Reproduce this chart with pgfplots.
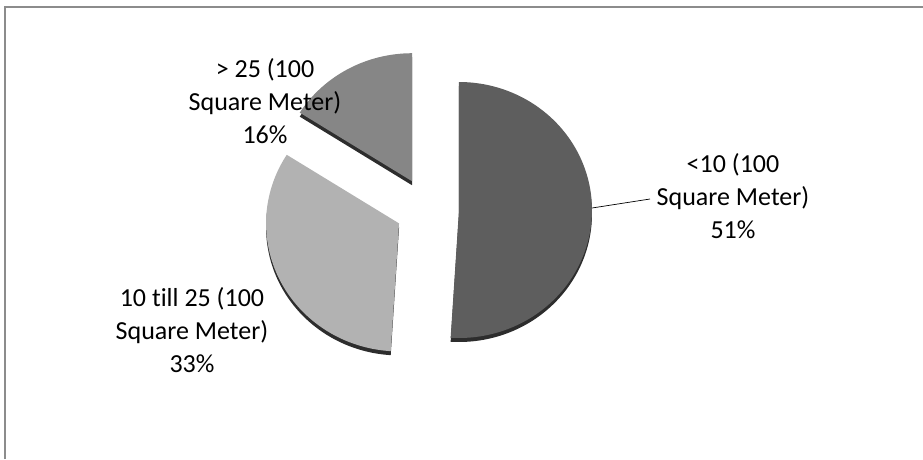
\documentclass[border=0pt]{standalone}
\usepackage{fontspec}
\setmainfont{Carlito}[Ligatures=NoCommon]
\usepackage{pgfplots}
\pgfplotsset{compat=1.18}

\definecolor{sliceA}{RGB}{94,94,94}
\definecolor{sliceB}{RGB}{178,178,178}
\definecolor{sliceC}{RGB}{134,134,134}
\definecolor{rimcol}{RGB}{45,45,45}
\definecolor{framecol}{RGB}{140,140,140}

% pie geometry in pixel units of the reference
\def\cx{427.3}
\def\cy{209}
\def\rx{133}
\def\ry{128}
\def\dd{31.7}
\def\depth{4}

% #1 start percent, #2 end percent, #3 colour (clockwise from 12 o'clock)
\newcommand{\pieslice}[3]{%
  \pgfmathsetmacro{\sa}{#1*3.6}%
  \pgfmathsetmacro{\sb}{#2*3.6}%
  \pgfmathsetmacro{\sm}{(\sa+\sb)/2}%
  \pgfmathsetmacro{\spx}{\cx+\dd*sin(\sm)}%
  \pgfmathsetmacro{\spy}{\cy-\dd*cos(\sm)}%
  \pgfmathsetmacro{\spyd}{\spy+\depth}%
  \edef\doslice{%
    \noexpand\addplot[fill=rimcol, draw=none, domain=\sa:\sb, samples=120, variable=\noexpand\t]
      ({\spx+\rx*sin(\noexpand\t)}, {\spyd-\ry*cos(\noexpand\t)}) -- (axis cs:\spx,\spyd) -- cycle;
    \noexpand\addplot[fill=#3, draw=none, domain=\sa:\sb, samples=120, variable=\noexpand\t]
      ({\spx+\rx*sin(\noexpand\t)}, {\spy-\ry*cos(\noexpand\t)}) -- (axis cs:\spx,\spy) -- cycle;
  }\doslice
}

\begin{document}
\begin{tikzpicture}
\useasboundingbox (0,0) rectangle (923pt,459pt);
\begin{axis}[
  at={(0,0)}, anchor=south west,
  width=923pt, height=459pt, scale only axis,
  xmin=0, xmax=923, ymin=0, ymax=459, y dir=reverse,
  hide axis, clip=false,
]
% frame
\draw[framecol, line width=1.2pt] (axis cs:5,459) -- (axis cs:5,7) -- (axis cs:923,7);

% slices: <10 = 51 %, 10 till 25 = 33 %, >25 = 16 %
\pieslice{0}{51}{sliceA}
\pieslice{51}{84}{sliceB}
\pieslice{84}{100}{sliceC}

% leader line
\draw[black, line width=0.7pt] (axis cs:592,208) -- (axis cs:650,199);

% labels
\node[align=center, font=\fontsize{26}{33}\selectfont] at (axis cs:733,196) {<10 (100\\Square Meter)\\51\%};
\node[align=center, font=\fontsize{26}{33}\selectfont] at (axis cs:192,330) {10 till 25 (100\\Square Meter)\\33\%};
\node[align=center, font=\fontsize{26}{33}\selectfont] at (axis cs:265,101) {> 25 (100\\Square Meter)\\16\%};
\end{axis}
\end{tikzpicture}
\end{document}
